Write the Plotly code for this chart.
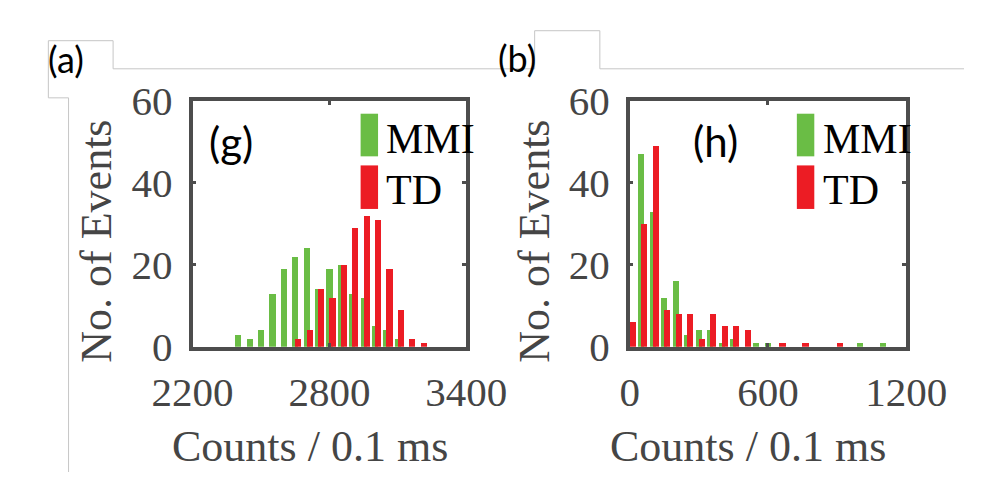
import plotly.graph_objects as go

W, H = 1005, 495

# ---- data ----
g_bins = [2400, 2450, 2500, 2550, 2600, 2650, 2700, 2750, 2800, 2850, 2900, 2950, 3000, 3050, 3100]
g_mmi = [3, 2, 4, 13, 19, 22, 24, 14, 19, 20, 13, 12, 5, 4, 2]
g_td_bins = [2650, 2700, 2750, 2800, 2850, 2900, 2950, 3000, 3050, 3100, 3150, 3200]
g_td = [2, 4, 14, 12, 20, 29, 32, 31, 19, 9, 2, 1]

h_bins = [0, 50, 100, 150, 200, 250, 300, 350, 400, 450, 500, 550, 600, 650, 700, 750,
          800, 850, 900, 950, 1000, 1050, 1100]
h_mmi = [0, 47, 33, 12, 16, 3, 4, 4, 1, 2, 0, 1, 1, 0, 0, 0, 0, 0, 0, 0, 1, 0, 1]
h_td = [6, 30, 49, 9, 8, 8, 2, 8, 5, 5, 4, 0, 0, 1, 0, 1, 0, 0, 1, 0, 0, 0, 0]

x_ticks_g = [2200, 2800, 3400]
x_ticks_h = [0, 600, 1200]
y_ticks = [0, 20, 40, 60]

GREEN = "#6abd45"
RED = "#ec1c24"
FRAME = "#4d4d4d"
TXT = "#454545"
SERIF = "Liberation Serif"
SANS = "Lato"

def px(x):
    return x / W

def py(y):
    return 1 - y / H

fig = go.Figure()
BW = 27
fig.add_trace(go.Bar(x=g_bins, y=g_mmi, width=BW, offset=-15, marker=dict(color=GREEN, line=dict(width=0)),
                     xaxis="x", yaxis="y", showlegend=False))
fig.add_trace(go.Bar(x=g_td_bins, y=g_td, width=BW, offset=-2, marker=dict(color=RED, line=dict(width=0)),
                     xaxis="x", yaxis="y", showlegend=False))
fig.add_trace(go.Bar(x=h_bins, y=h_mmi, width=BW, offset=-15, marker=dict(color=GREEN, line=dict(width=0)),
                     xaxis="x2", yaxis="y2", showlegend=False))
fig.add_trace(go.Bar(x=h_bins, y=h_td, width=BW, offset=-2, marker=dict(color=RED, line=dict(width=0)),
                     xaxis="x2", yaxis="y2", showlegend=False))

ax_common = dict(showline=True, mirror="ticks", linecolor=FRAME, linewidth=3.5,
                 ticks="inside", ticklen=4, tickwidth=3, tickcolor=FRAME,
                 showgrid=False, zeroline=False,
                 tickfont=dict(family=SERIF, size=41, color=TXT))

ydom = [py(357), py(86)]
fig.update_layout(
    width=W, height=H, margin=dict(l=0, r=0, t=0, b=0),
    paper_bgcolor="white", plot_bgcolor="white",
    barmode="overlay", bargap=0,
    xaxis=dict(domain=[px(165), px(463)], range=[2200, 3400], tickvals=x_ticks_g,
               anchor="y", ticklabelstandoff=6, **ax_common),
    yaxis=dict(domain=ydom, range=[0, 60], tickvals=y_ticks, anchor="x",
               ticklabelstandoff=8, **ax_common),
    xaxis2=dict(domain=[px(641), px(942)], range=[0, 1200], tickvals=x_ticks_h,
                anchor="y2", ticklabelstandoff=6, **ax_common),
    yaxis2=dict(domain=ydom, range=[0, 60], tickvals=y_ticks, anchor="x2",
                ticklabelstandoff=8, **ax_common),
)

ann = []
def text(x, y, s, size, family, color="black", angle=0, xanchor="center"):
    ann.append(dict(x=px(x), y=py(y), xref="paper", yref="paper", text=s, showarrow=False,
                    font=dict(family=family, size=size, color=color), textangle=angle,
                    xanchor=xanchor, yanchor="middle"))

# axis titles
text(60, 241, "No. of Events", 44, SERIF, TXT, angle=-90)
text(538, 241, "No. of Events", 44, SERIF, TXT, angle=-90)
text(293, 467, "Counts / 0.1 ms", 44, SERIF, TXT)
text(770, 467, "Counts / 0.1 ms", 44, SERIF, TXT)

# panel tags
text(207, 131, "(g)", 42, SANS)
text(734, 130, "(h)", 42, SANS)
text(27, 40, "(a)", 36, SANS)
text(518, 39, "(b)", 36, SANS)

# legends
shapes = []
def rect(x0, y0, x1, y1, color):
    shapes.append(dict(type="rect", xref="paper", yref="paper", x0=px(x0), x1=px(x1),
                       y0=py(y1), y1=py(y0), fillcolor=color, line=dict(width=0)))

for lx in (348, 823):
    rect(lx, 100, lx + 19, 147, GREEN)
    rect(lx, 157, lx + 19, 205, RED)
    text(lx + 26, 128, "MMI", 42, SERIF, "black", xanchor="left")
    text(lx + 26, 184, "TD", 42, SERIF, "black", xanchor="left")

# light grey text-box borders
def line(pts):
    for (x0, y0), (x1, y1) in zip(pts[:-1], pts[1:]):
        shapes.append(dict(type="line", xref="paper", yref="paper", x0=px(x0), y0=py(y0),
                           x1=px(x1), y1=py(y1), line=dict(color="#c6c6c6", width=1)))

line([(8, 82.5), (8, 19.5), (78.5, 19.5), (78.5, 50.5), (537.5, 50.5), (537.5, 8.5),
      (608.5, 8.5), (608.5, 50.5), (1005, 50.5)])
line([(8, 82.5), (30, 82.5), (30, 495)])

fig.update_layout(annotations=ann, shapes=shapes)
fig.write_html("out.html")
